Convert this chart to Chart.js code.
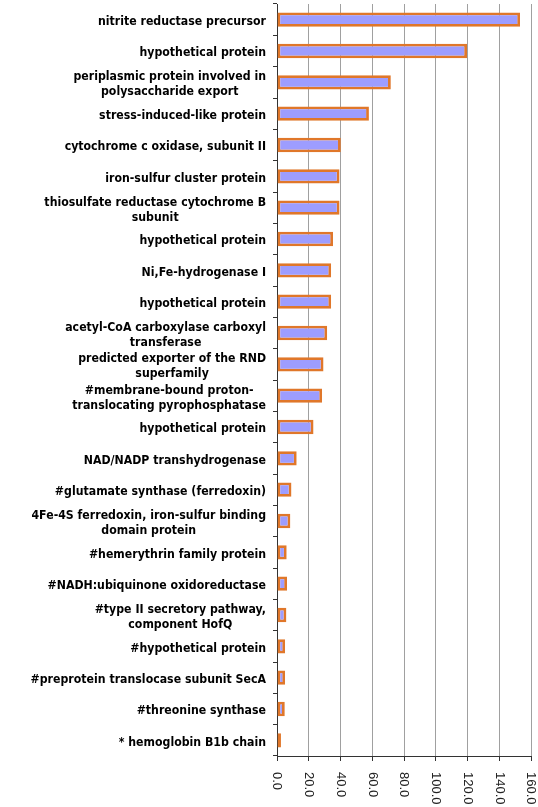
<!DOCTYPE html>
<html><head><meta charset="utf-8">
<script src="https://cdn.jsdelivr.net/npm/chart.js@4.4.0/dist/chart.umd.min.js"></script>
<style>html,body{margin:0;padding:0;background:#fff;overflow:hidden}#wrap{width:538px;height:807px;position:relative}</style>
</head><body><div id="wrap"><canvas id="c"></canvas></div>
<script>
const categories = [
  ["nitrite reductase precursor"],
  ["hypothetical protein"],
  ["periplasmic protein involved in", "polysaccharide export"],
  ["stress-induced-like protein"],
  ["cytochrome c oxidase, subunit II"],
  ["iron-sulfur cluster protein"],
  ["thiosulfate reductase cytochrome B", "subunit"],
  ["hypothetical protein"],
  ["Ni,Fe-hydrogenase I"],
  ["hypothetical protein"],
  ["acetyl-CoA carboxylase carboxyl", "transferase"],
  ["predicted exporter of the RND", "superfamily"],
  ["#membrane-bound proton-", "translocating pyrophosphatase"],
  ["hypothetical protein"],
  ["NAD/NADP transhydrogenase"],
  ["#glutamate synthase (ferredoxin)"],
  ["4Fe-4S ferredoxin, iron-sulfur binding", "domain protein"],
  ["#hemerythrin family protein"],
  ["#NADH:ubiquinone oxidoreductase"],
  ["#type II secretory pathway,", "component HofQ"],
  ["#hypothetical protein"],
  ["#preprotein translocase subunit SecA"],
  ["#threonine synthase"],
  ["* hemoglobin B1b chain"]
];
const values = [153.1, 119.7, 71.7, 57.9, 40.2, 39.4, 39.4, 35.3, 34.1, 34.1, 31.6, 29.3, 28.4, 23.0, 12.4, 9.1, 8.4, 6.1, 6.3, 5.9, 5.1, 5.1, 4.9, 2.5];
const xTickValues = [0, 20, 40, 60, 80, 100, 120, 140, 160];
const xTickLabels = ["0.0", "20.0", "40.0", "60.0", "80.0", "100.0", "120.0", "140.0", "160.0"];

const labelPlugin = {
  id: 'customLabels',
  afterDraw(chart) {
    const ctx = chart.ctx;
    const ys = chart.scales.y, xs = chart.scales.x;
    const sx = 0.845;
    ctx.save();
    ctx.fillStyle = '#000';
    ctx.font = 'bold 13px "DejaVu Sans"';
    ctx.textBaseline = 'middle';
    ctx.textAlign = 'center';
    const right = ys.right - 11;
    const lh = 15;
    categories.forEach((lines, i) => {
      const y = ys.getPixelForValue(i);
      const w = Math.max(...lines.map(l => ctx.measureText(l).width)) * sx;
      const cx = right - w / 2;
      const y0 = y + 2 - (lines.length - 1) * lh / 2;
      lines.forEach((l, k) => {
        ctx.save();
        ctx.translate(cx, y0 + k * lh);
        ctx.scale(sx, 1);
        ctx.fillText(l, 0, 0);
        ctx.restore();
      });
    });
    ctx.font = '13px "Liberation Sans"';
    ctx.fillStyle = '#222';
    ctx.textAlign = 'left';
    xTickValues.forEach((v, i) => {
      const x = xs.getPixelForValue(v);
      ctx.save();
      ctx.translate(x, xs.top + 16);
      ctx.rotate(Math.PI / 2);
      ctx.fillText(xTickLabels[i], 0, 0);
      ctx.restore();
    });
    ctx.restore();
  }
};

new Chart(document.getElementById('c'), {
  type: 'bar',
  data: {
    labels: categories,
    datasets: [{
      data: values,
      backgroundColor: '#9d9dff',
      borderColor: '#e0772a',
      borderWidth: 2.8,
      borderSkipped: false,
      categoryPercentage: 1,
      barPercentage: 0.46
    }]
  },
  options: {
    indexAxis: 'y',
    responsive: true,
    maintainAspectRatio: false,
    animation: false,
    layout: { padding: { top: 4, right: 7, left: 0, bottom: 0 } },
    plugins: { legend: { display: false }, tooltip: { enabled: false } },
    scales: {
      x: {
        type: 'linear',
        min: 0, max: 160,
        afterBuildTicks(scale) { scale.ticks = xTickValues.map(v => ({ value: v })); },
        afterFit(scale) { scale.height = 51; },
        ticks: { display: false },
        grid: { color: '#a0a0a0', lineWidth: 1, tickColor: '#333', tickLength: 5, drawTicks: true },
        border: { display: true, color: '#333', width: 1 }
      },
      y: {
        type: 'category',
        offset: true,
        afterFit(scale) { scale.width = 277; },
        ticks: { display: false },
        grid: { offset: true, drawOnChartArea: false, drawTicks: true, tickLength: 4, color: '#333' },
        border: { display: true, color: '#333', width: 1 }
      }
    }
  },
  plugins: [labelPlugin]
});
</script>
</body></html>
